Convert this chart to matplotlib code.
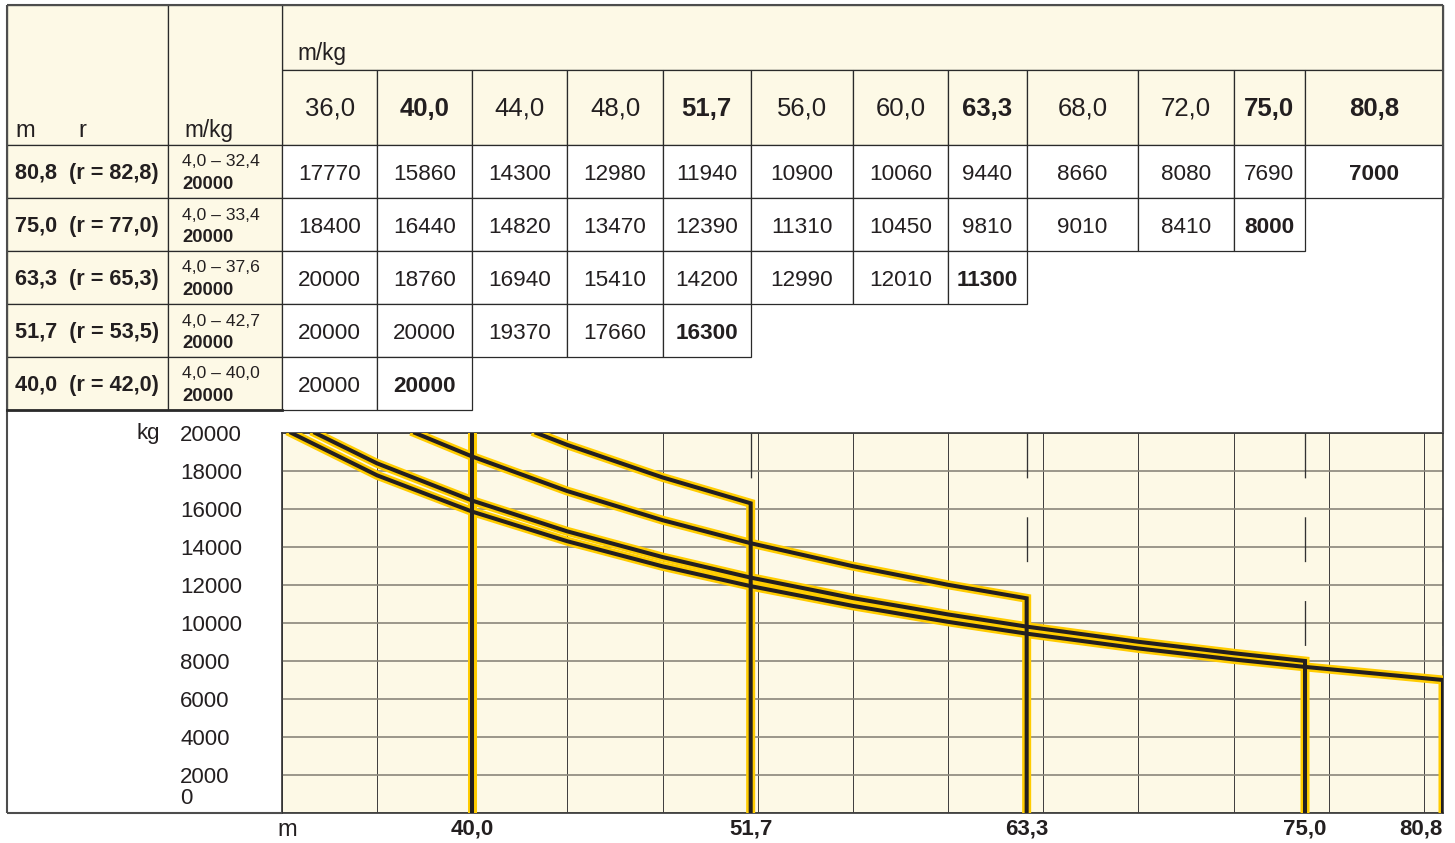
import matplotlib
matplotlib.use("Agg")
import matplotlib.pyplot as plt
from matplotlib.patches import Rectangle
from matplotlib.transforms import blended_transform_factory, offset_copy

plt.rcParams['font.family'] = ['Liberation Sans', 'DejaVu Sans']

# --- data ---
radii = [36.0, 40.0, 44.0, 48.0, 51.7, 56.0, 60.0, 63.3, 68.0, 72.0, 75.0, 80.8]
boom_lengths = [80.8, 75.0, 63.3, 51.7, 40.0]
hook_radius = [82.8, 77.0, 65.3, 53.5, 42.0]
min_reach = [4.0, 4.0, 4.0, 4.0, 4.0]
max_load_reach = [32.4, 33.4, 37.6, 42.7, 40.0]
max_load = [20000, 20000, 20000, 20000, 20000]

load_808 = [17770, 15860, 14300, 12980, 11940, 10900, 10060, 9440, 8660, 8080, 7690, 7000]
load_750 = [18400, 16440, 14820, 13470, 12390, 11310, 10450, 9810, 9010, 8410, 8000]
load_633 = [20000, 18760, 16940, 15410, 14200, 12990, 12010, 11300]
load_517 = [20000, 20000, 19370, 17660, 16300]
load_400 = [20000, 20000]
loads = [load_808, load_750, load_633, load_517, load_400]

y_ticks = [0, 2000, 4000, 6000, 8000, 10000, 12000, 14000, 16000, 18000, 20000]
x_grid = [32, 36, 40, 44, 48, 52, 56, 60, 64, 68, 72, 76, 80]
x_start, x_end = 32.0, 80.8


def fmt(v):
    return f"{v:.1f}".replace('.', ',')


CREAM = '#fdf9e6'
INK = '#231f20'
YELLOW = '#ffcc00'
W, H = 1455, 843

fig = plt.figure(figsize=(W / 100, H / 100), dpi=100)

# --- load chart ---
ax = fig.add_axes([282 / W, (H - 813) / H, (1443 - 282) / W, (813 - 433) / H])
ax.set_xlim(x_start, x_end)
ax.set_ylim(0, 20000)
ax.set_facecolor(CREAM)
ax.set_xticks(x_grid, minor=True)
ax.xaxis.grid(True, which='minor', color='#3c3c3c', lw=0.7)
ax.set_yticks(y_ticks)
ax.set_yticklabels([str(v) if v else '' for v in y_ticks], fontsize=16)
ax.yaxis.grid(True, which='major', color='#8a867a', lw=1.2)
ax.set_axisbelow(True)
ax.tick_params(which='both', length=0)
ax.tick_params(axis='y', pad=73.4)
for lab in ax.get_yticklabels():
    lab.set_horizontalalignment('left')
    lab.set_color(INK)

booms_sorted = sorted(boom_lengths)
ax.set_xticks(booms_sorted)
ax.set_xticklabels([fmt(b) for b in booms_sorted], fontsize=16, fontweight='bold', color=INK)
ax.tick_params(axis='x', pad=4)
ax.get_xticklabels()[-1].set_horizontalalignment('right')

for sp in ax.spines.values():
    sp.set_color('#333333')
    sp.set_linewidth(1.2)

# dashed guide lines above each curve end
for boom, top, row in zip(boom_lengths, max_load, loads):
    if row[-1] < top:
        ax.plot([boom, boom], [top, row[-1]], color='#333333', lw=0.95,
                linestyle=(0, (34, 29.5)), zorder=2.6)

# load curves: yellow casing first, black core on top
curves = []
for boom, reach, top, row in zip(boom_lengths, max_load_reach, max_load, loads):
    xs = [reach] + [r for r in radii[:len(row)] if r > reach] + [boom]
    ys = [top] + [v for r, v in zip(radii, row) if r > reach] + [0]
    curves.append((xs, ys))
for xs, ys in curves:
    ax.plot(xs, ys, color=YELLOW, lw=6.5, solid_joinstyle='miter', zorder=3)
for xs, ys in curves:
    ax.plot(xs, ys, color=INK, lw=2.9, solid_joinstyle='miter', zorder=4)

# --- table drawn in pixel space, columns follow the chart's x scale ---
over = fig.add_axes([0, 0, 1, 1])
over.set_xlim(0, W)
over.set_ylim(H, 0)
over.set_axis_off()
over.patch.set_visible(False)
tx = blended_transform_factory(ax.transData, over.transData)
ty = blended_transform_factory(over.transData, ax.transData)

edges = [x_start] + radii
row_edges = [145, 198, 251, 304, 357, 410]
cell_kw = dict(ec='#2a2a2a', lw=0.9)

# header band
over.add_patch(Rectangle((x_start, 5), x_end - x_start, 65, transform=tx, fc=CREAM, **cell_kw))
over.text(297, 60, 'm/kg', fontsize=16.3, color=INK, va='baseline')
for i, r in enumerate(radii):
    over.add_patch(Rectangle((edges[i], 70), edges[i + 1] - edges[i], 75, transform=tx,
                             fc=CREAM, **cell_kw))
    over.text((edges[i] + edges[i + 1]) / 2, 115.5, fmt(r), transform=tx, ha='center',
              va='baseline', fontsize=18.5, color=INK,
              fontweight='bold' if r in boom_lengths else 'normal')

# left label columns header
over.add_patch(Rectangle((7, 5), 161, 140, fc=CREAM, **cell_kw))
over.add_patch(Rectangle((168, 5), 114, 140, fc=CREAM, **cell_kw))
over.text(15, 137, 'm', fontsize=17, color=INK, va='baseline')
over.text(78, 137, 'r', fontsize=17, color=INK, va='baseline')
over.text(184, 137, 'm/kg', fontsize=16.3, color=INK, va='baseline')

# data rows
for k, (boom, rr, lo, reach, top, row) in enumerate(
        zip(boom_lengths, hook_radius, min_reach, max_load_reach, max_load, loads)):
    y0, y1 = row_edges[k], row_edges[k + 1]
    over.add_patch(Rectangle((7, y0), 161, y1 - y0, fc=CREAM, **cell_kw))
    over.add_patch(Rectangle((168, y0), 114, y1 - y0, fc=CREAM, **cell_kw))
    over.text(15, y0 + 34, f"{fmt(boom)}  (r = {fmt(rr)})", fontsize=15.6,
              fontweight='bold', color=INK, va='baseline')
    over.text(182, y0 + 21.5, f"{fmt(lo)} – {fmt(reach)}", fontsize=12.6,
              color=INK, va='baseline')
    over.text(182, y0 + 44, str(top), fontsize=13.3, fontweight='bold',
              color=INK, va='baseline')
    for i, v in enumerate(row):
        over.add_patch(Rectangle((edges[i], y0), edges[i + 1] - edges[i], y1 - y0,
                                 transform=tx, fc='white', **cell_kw))
        over.text((edges[i] + edges[i + 1]) / 2, y0 + 35, str(v), transform=tx,
                  ha='center', va='baseline', fontsize=16.2, color=INK,
                  fontweight='bold' if i == len(row) - 1 else 'normal')

# outer frame
frame_kw = dict(color='#4d4d4d', lw=1.5, solid_capstyle='butt')
over.plot([7, 7], [5, 813], **frame_kw)
over.plot([7, 1443], [5, 5], **frame_kw)
over.plot([1443, 1443], [5, 433], **frame_kw)
over.plot([7, 282], [813, 813], **frame_kw)
over.plot([7, 282], [410, 410], color='#2a2a2a', lw=2.0)

# axis captions
over.text(160, 433, 'kg', fontsize=16, color=INK, ha='right', va='center')
over.text(180, 0, '0', fontsize=16, color=INK, ha='left', va='center',
          transform=offset_copy(ty, fig=fig, x=0, y=15, units='dots'))
over.text(277, 836, 'm', fontsize=17, color=INK, ha='left', va='baseline')

fig.savefig('out.png', dpi=100)
